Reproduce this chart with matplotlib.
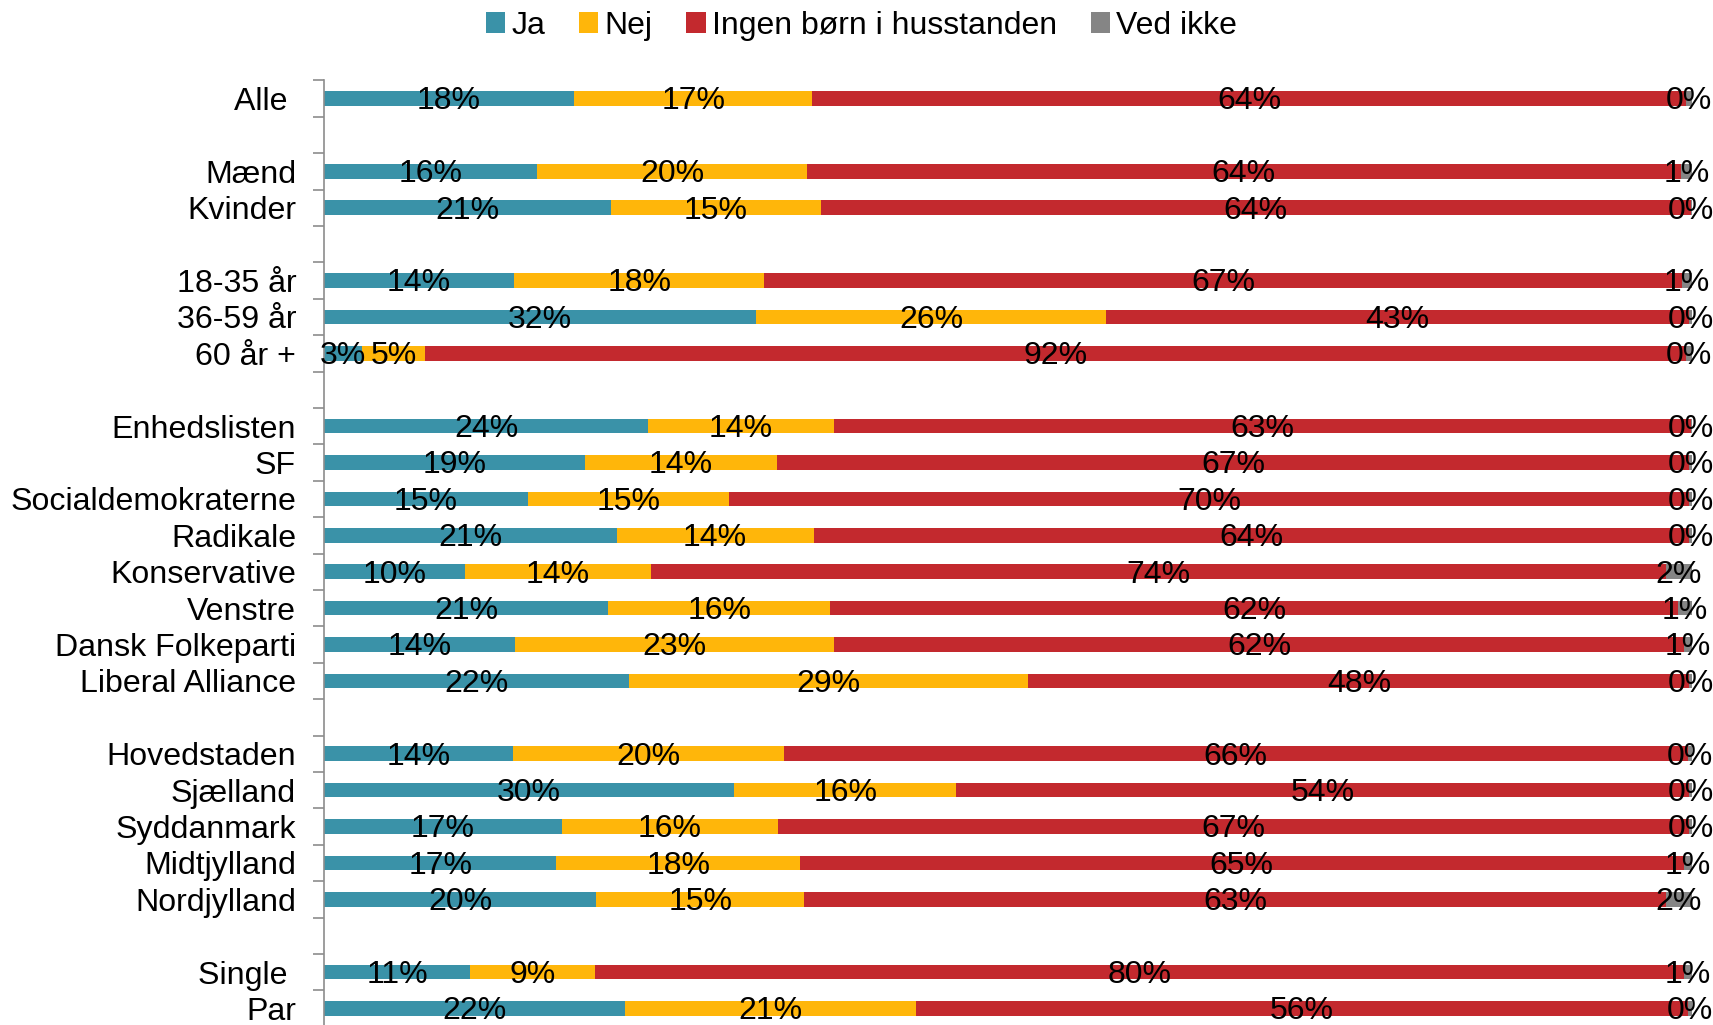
import matplotlib
matplotlib.use("Agg")
import matplotlib.pyplot as plt
import numpy as np

plt.rcParams['font.family'] = ['Liberation Sans', 'DejaVu Sans']

# groups of categories (a blank row separates groups)
groups = [
    ["Alle "],
    ["Mænd", "Kvinder"],
    ["18-35 år", "36-59 år", "60 år +"],
    ["Enhedslisten", "SF", "Socialdemokraterne", "Radikale", "Konservative",
     "Venstre", "Dansk Folkeparti", "Liberal Alliance"],
    ["Hovedstaden", "Sjælland", "Syddanmark", "Midtjylland", "Nordjylland"],
    ["Single ", "Par"],
]

series_names = ["Ja", "Nej", "Ingen børn i husstanden", "Ved ikke"]
ja = [18.3, 15.6, 21.0, 13.9, 31.6, 2.8, 23.7, 19.1, 14.9, 21.4, 10.3,
      20.8, 14.0, 22.3, 13.8, 30.0, 17.4, 17.0, 19.9, 10.7, 22.0]
nej = [17.4, 19.7, 15.3, 18.3, 25.6, 4.6, 13.6, 14.0, 14.7, 14.4, 13.6,
       16.2, 23.3, 29.2, 19.8, 16.2, 15.8, 17.8, 15.2, 9.1, 21.3]
ingen = [63.9, 63.9, 63.6, 67.1, 42.6, 92.2, 62.6, 66.7, 70.2, 64.0, 74.2,
         62.0, 62.1, 48.3, 66.1, 53.6, 66.6, 64.6, 63.0, 79.6, 56.4]
ved = [0.4, 0.8, 0.1, 0.7, 0.2, 0.4, 0.1, 0.2, 0.2, 0.2, 1.9,
       1.0, 0.6, 0.2, 0.3, 0.2, 0.2, 0.6, 1.9, 0.6, 0.3]

colors = ["#3A92A8", "#FFB60A", "#C3292E", "#858585"]

# positions with blank slot between groups
labels = []
pos = []
slot = 0
for gi, g in enumerate(groups):
    if gi > 0:
        slot += 1
    for c in g:
        labels.append(c)
        pos.append(slot)
        slot += 1
nslots = slot
pos = np.array(pos)

fig = plt.figure(figsize=(17.13, 10.25), dpi=100)
ax = fig.add_axes([0.1891, -0.0017, 0.7986, 0.9233])

data = [np.array(ja), np.array(nej), np.array(ingen), np.array(ved)]
left = np.zeros(len(labels))
for name, vals, col in zip(series_names, data, colors):
    ax.barh(pos, vals, left=left, height=0.40, color=col, label=name,
            edgecolor="none", clip_on=False)
    for y, l, v in zip(pos, left, vals):
        ax.text(l + v / 2, y + 0.08, f"{v:.0f}%", ha="center", va="center",
                fontsize=23, color="black", clip_on=False)
    left = left + vals

ax.set_xlim(0, 100)
ax.set_ylim(nslots - 0.5, -0.5)

ax.set_yticks(pos)
ax.set_yticklabels(labels, fontsize=23.1)
ax.tick_params(axis="y", which="major", length=0, pad=20)
ax.set_yticks(np.arange(-0.5, nslots, 1.0), minor=True)
ax.tick_params(axis="y", which="minor", length=8, width=1.2, color="#8C8C8C",
               direction="out")
ax.set_xticks([])
for s in ["top", "right", "bottom"]:
    ax.spines[s].set_visible(False)
ax.spines["left"].set_color("#8C8C8C")
ax.spines["left"].set_linewidth(1.2)

fig.legend(loc="center", bbox_to_anchor=(0.503, 0.975), ncol=4, frameon=False,
           fontsize=23, handlelength=0.6, handleheight=0.6,
           handletextpad=0.2, columnspacing=1.05)

fig.savefig("out.png", dpi=100)
